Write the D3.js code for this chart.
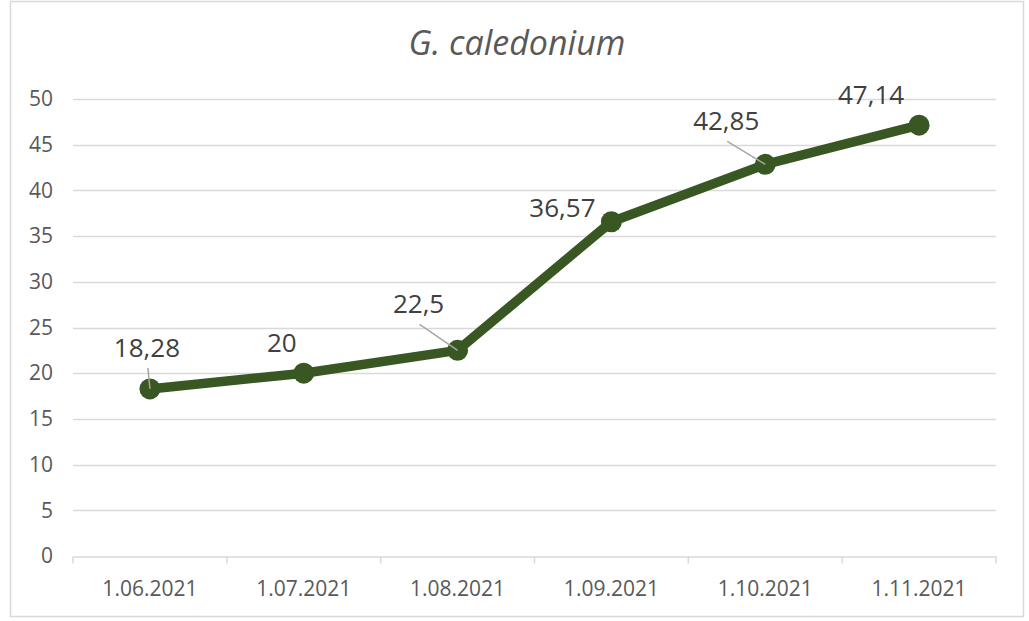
<!DOCTYPE html>
<html>
<head>
<meta charset="utf-8">
<script src="https://cdn.jsdelivr.net/npm/d3@7"></script>
<style>
  html, body { margin: 0; padding: 0; background: #fff; }
  svg { display: block; }
</style>
</head>
<body>
<svg id="chart" width="1029" height="621"></svg>
<script>
var W = 1029
var H = 621

var cLine = "#385723"
var cGrid = "#d9d9d9"
var cText = "#595959"
var cLabel = "#404040"
var cLeader = "#a6a6a6"

// data
var dates = ["1.06.2021", "1.07.2021", "1.08.2021", "1.09.2021", "1.10.2021", "1.11.2021"]
var values = [18.28, 20, 22.5, 36.57, 42.85, 47.14]
var valueLabels = ["18,28", "20", "22,5", "36,57", "42,85", "47,14"]
var yTicks = [0, 5, 10, 15, 20, 25, 30, 35, 40, 45, 50]

// where the labels sit relative to their point (Excel moved some by hand)
var labelPlace = [
	{dx: -3,  dy: -32, leader: true},
	{dx: -22, dy: -21, leader: false},
	{dx: -39, dy: -37, leader: true},
	{dx: -49, dy: -5,  leader: false},
	{dx: -39, dy: -34, leader: true},
	{dx: -48, dy: -21, leader: false}
]

var plot = {left: 73, right: 996, top: 99, bottom: 556}

var svg = d3.select("#chart")

// outer frame
svg.append("rect")
	.attr("x", 10.5)
	.attr("y", 1.5)
	.attr("width", 1013)
	.attr("height", 615)
	.attr("fill", "#fff")
	.attr("stroke", cGrid)
	.attr("stroke-width", 1.5)

var x = d3.scaleBand()
	.domain(dates)
	.range([plot.left, plot.right])
	.padding(0)

var y = d3.scaleLinear()
	.domain([0, 50])
	.range([plot.bottom, plot.top])

// gridlines
svg.append("g")
	.selectAll("line")
	.data(yTicks.filter(function(d) {return d > 0;}))
	.enter()
	.append("line")
	.attr("x1", plot.left)
	.attr("x2", plot.right)
	.attr("y1", function(d) {return Math.round(y(d)) + 0.5;})
	.attr("y2", function(d) {return Math.round(y(d)) + 0.5;})
	.attr("stroke", cGrid)
	.attr("stroke-width", 1.3)

// y axis labels
var yAxis = svg.append("g")
	.attr("transform", "translate(" + (plot.left - 20) + ",0)")
	.call(d3.axisLeft(y).tickValues(yTicks).tickSize(0).tickPadding(0))
yAxis.select(".domain").remove()
yAxis.selectAll("text")
	.attr("font-family", "Open Sans")
	.attr("font-size", "21px")
	.attr("fill", cText)

// x axis: line + ticks at band edges
var xAxis = svg.append("g")
	.attr("transform", "translate(0," + (Math.round(plot.bottom) + 0.5) + ")")
	.call(d3.axisBottom(x).tickSize(0).tickPadding(25))
xAxis.select(".domain")
	.attr("stroke", cGrid)
	.attr("stroke-width", 1.5)
xAxis.selectAll("text")
	.attr("font-family", "Open Sans")
	.attr("font-size", "21px")
	.attr("fill", cText)

var edges = dates.map(function(d) {return x(d);}).concat([x(dates[dates.length - 1]) + x.bandwidth()])
xAxis.selectAll(".edge")
	.data(edges)
	.enter()
	.append("line")
	.attr("class", "edge")
	.attr("x1", function(d) {return d;})
	.attr("x2", function(d) {return d;})
	.attr("y1", 0)
	.attr("y2", 7)
	.attr("stroke", cGrid)
	.attr("stroke-width", 1.5)

// title
svg.append("text")
	.text("G. caledonium")
	.attr("x", 517)
	.attr("y", 55)
	.attr("text-anchor", "middle")
	.attr("font-family", "Open Sans")
	.attr("font-style", "italic")
	.attr("font-size", "34px")
	.attr("fill", cText)

var points = dates.map(function(d, i) {
	return {date: d, value: values[i], label: valueLabels[i], place: labelPlace[i]}
})

var cx = function(d) {return x(d.date) + x.bandwidth() / 2;}
var cy = function(d) {return y(d.value);}

// the series
svg.append("path")
	.datum(points)
	.attr("d", d3.line().x(cx).y(cy))
	.attr("fill", "none")
	.attr("stroke", cLine)
	.attr("stroke-width", 9.5)
	.attr("stroke-linejoin", "round")

svg.selectAll(".marker")
	.data(points)
	.enter()
	.append("circle")
	.attr("class", "marker")
	.attr("cx", cx)
	.attr("cy", cy)
	.attr("r", 10.5)
	.attr("fill", cLine)

// leader lines
svg.selectAll(".leader")
	.data(points.filter(function(d) {return d.place.leader;}))
	.enter()
	.append("line")
	.attr("class", "leader")
	.attr("x1", function(d) {return cx(d) + d.place.dx + 1;})
	.attr("y1", function(d) {return cy(d) + d.place.dy + 11;})
	.attr("x2", cx)
	.attr("y2", cy)
	.attr("stroke", cLeader)
	.attr("stroke-width", 1.5)

// data labels
svg.selectAll(".vlabel")
	.data(points)
	.enter()
	.append("text")
	.attr("class", "vlabel")
	.text(function(d) {return d.label;})
	.attr("x", function(d) {return cx(d) + d.place.dx;})
	.attr("y", function(d) {return cy(d) + d.place.dy;})
	.attr("text-anchor", "middle")
	.attr("font-family", "Open Sans")
	.attr("font-size", "26px")
	.attr("fill", cLabel)
</script>
</body>
</html>
